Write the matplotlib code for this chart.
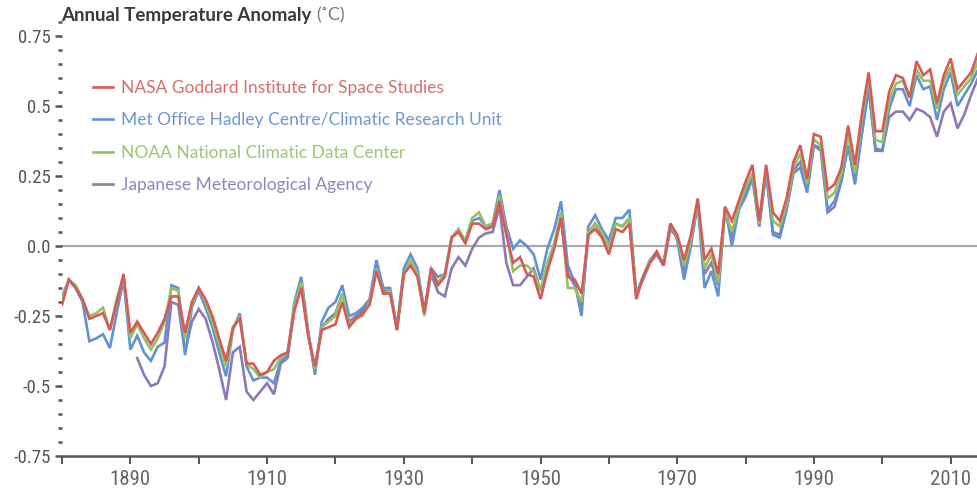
import matplotlib
matplotlib.use("Agg")
import matplotlib.pyplot as plt
from matplotlib import font_manager
from matplotlib.ticker import MultipleLocator, FuncFormatter

def pick(names):
    avail = {f.name for f in font_manager.fontManager.ttflist}
    for n in names:
        if n in avail:
            return n
    return "DejaVu Sans"

NARROW = pick(["Liberation Sans Narrow", "Roboto Condensed", "DejaVu Sans"])
SANS = pick(["Lato", "Open Sans", "DejaVu Sans"])

years_full = list(range(1880, 2015))
years_jma = list(range(1891, 2015))

nasa = [-0.21, -0.12, -0.15, -0.19, -0.26, -0.25, -0.24, -0.30, -0.20, -0.10,
        -0.31, -0.27, -0.31, -0.35, -0.31, -0.26, -0.18, -0.18, -0.31, -0.20,
        -0.15, -0.19, -0.25, -0.33, -0.41, -0.29, -0.26, -0.42, -0.42, -0.46,
        -0.45, -0.41, -0.39, -0.38, -0.23, -0.15, -0.32, -0.43, -0.30, -0.29,
        -0.28, -0.20, -0.29, -0.26, -0.24, -0.21, -0.09, -0.17, -0.17, -0.30,
        -0.10, -0.07, -0.11, -0.24, -0.08, -0.14, -0.11, 0.03, 0.05, 0.01,
        0.08, 0.08, 0.06, 0.07, 0.16, 0.04, -0.06, -0.04, -0.10, -0.11,
        -0.19, -0.09, -0.01, 0.10, -0.11, -0.12, -0.17, 0.04, 0.06, 0.03,
        -0.03, 0.06, 0.05, 0.08, -0.19, -0.11, -0.06, -0.02, -0.07, 0.08,
        0.04, -0.05, 0.04, 0.17, -0.05, -0.01, -0.10, 0.14, 0.09, 0.16,
        0.23, 0.29, 0.09, 0.29, 0.12, 0.09, 0.17, 0.30, 0.36, 0.24,
        0.40, 0.39, 0.20, 0.22, 0.28, 0.43, 0.29, 0.47, 0.62, 0.41,
        0.41, 0.55, 0.61, 0.60, 0.53, 0.66, 0.61, 0.63, 0.51, 0.61,
        0.67, 0.56, 0.59, 0.62, 0.69]

hadcru = [-0.18, -0.12, -0.15, -0.20, -0.34, -0.33, -0.315, -0.365, -0.24, -0.12,
          -0.37, -0.32, -0.38, -0.41, -0.36, -0.345, -0.14, -0.15, -0.39, -0.22,
          -0.16, -0.22, -0.29, -0.38, -0.465, -0.30, -0.24, -0.43, -0.48, -0.47,
          -0.47, -0.49, -0.41, -0.39, -0.20, -0.11, -0.30, -0.46, -0.27, -0.22,
          -0.20, -0.14, -0.25, -0.24, -0.22, -0.19, -0.05, -0.15, -0.15, -0.29,
          -0.08, -0.03, -0.08, -0.23, -0.08, -0.11, -0.10, 0.03, 0.06, 0.01,
          0.09, 0.10, 0.07, 0.08, 0.20, 0.07, -0.01, 0.02, 0.00, -0.03,
          -0.12, -0.01, 0.06, 0.16, -0.07, -0.13, -0.25, 0.07, 0.11, 0.06,
          0.02, 0.10, 0.10, 0.13, -0.17, -0.11, -0.05, -0.03, -0.06, 0.08,
          0.02, -0.12, 0.00, 0.155, -0.15, -0.09, -0.18, 0.14, 0.00, 0.13,
          0.175, 0.24, 0.07, 0.26, 0.04, 0.03, 0.13, 0.26, 0.28, 0.19,
          0.36, 0.35, 0.13, 0.16, 0.23, 0.36, 0.23, 0.40, 0.56, 0.35,
          0.34, 0.49, 0.56, 0.56, 0.50, 0.61, 0.56, 0.57, 0.45, 0.56,
          0.62, 0.50, 0.54, 0.58, 0.63]

noaa = [-0.19, -0.12, -0.14, -0.19, -0.25, -0.24, -0.22, -0.30, -0.19, -0.11,
        -0.33, -0.28, -0.33, -0.37, -0.33, -0.27, -0.15, -0.16, -0.33, -0.21,
        -0.15, -0.20, -0.27, -0.35, -0.43, -0.30, -0.25, -0.42, -0.44, -0.47,
        -0.45, -0.44, -0.40, -0.38, -0.21, -0.13, -0.31, -0.44, -0.29, -0.27,
        -0.25, -0.17, -0.28, -0.26, -0.25, -0.20, -0.08, -0.17, -0.16, -0.30,
        -0.10, -0.05, -0.10, -0.25, -0.09, -0.13, -0.10, 0.03, 0.06, 0.02,
        0.10, 0.12, 0.07, 0.08, 0.18, 0.05, -0.09, -0.07, -0.07, -0.09,
        -0.16, -0.06, 0.01, 0.12, -0.15, -0.15, -0.20, 0.05, 0.08, 0.05,
        -0.01, 0.08, 0.07, 0.10, -0.18, -0.11, -0.05, -0.02, -0.07, 0.08,
        0.03, -0.07, 0.02, 0.16, -0.08, -0.03, -0.13, 0.13, 0.05, 0.14,
        0.21, 0.26, 0.08, 0.28, 0.09, 0.07, 0.15, 0.28, 0.33, 0.22,
        0.38, 0.36, 0.17, 0.19, 0.26, 0.40, 0.26, 0.45, 0.60, 0.38,
        0.37, 0.52, 0.58, 0.59, 0.53, 0.63, 0.59, 0.59, 0.49, 0.59,
        0.64, 0.54, 0.57, 0.60, 0.66]

jma = [-0.40, -0.46, -0.50, -0.49, -0.43, -0.20, -0.21, -0.38, -0.27,
       -0.225, -0.26, -0.34, -0.44, -0.55, -0.38, -0.36, -0.52, -0.55, -0.52,
       -0.49, -0.53, -0.42, -0.40, -0.22, -0.13, -0.31, -0.45, -0.29, -0.26,
       -0.24, -0.17, -0.27, -0.25, -0.23, -0.20, -0.07, -0.16, -0.16, -0.30,
       -0.10, -0.06, -0.10, -0.24, -0.10, -0.165, -0.18, -0.08, -0.04, -0.07,
       -0.01, 0.03, 0.045, 0.05, 0.14, -0.06, -0.14, -0.14, -0.11, -0.08,
       -0.16, -0.07, 0.00, 0.10, -0.10, -0.14, -0.22, 0.04, 0.08, 0.04,
       0.00, 0.08, 0.07, 0.10, -0.17, -0.12, -0.06, -0.03, -0.07, 0.06,
       0.03, -0.09, 0.01, 0.15, -0.10, -0.06, -0.14, 0.13, 0.03, 0.13,
       0.19, 0.25, 0.07, 0.27, 0.05, 0.04, 0.13, 0.27, 0.30, 0.20,
       0.36, 0.34, 0.12, 0.14, 0.23, 0.36, 0.22, 0.40, 0.57, 0.34,
       0.34, 0.46, 0.48, 0.48, 0.45, 0.49, 0.48, 0.46, 0.39, 0.48,
       0.51, 0.42, 0.47, 0.54, 0.60]

labels = ["NASA Goddard Institute for Space Studies",
          "Met Office Hadley Centre/Climatic Research Unit",
          "NOAA National Climatic Data Center",
          "Japanese Meteorological Agency"]
colors = ["#d65a57", "#6092d4", "#95c162", "#8d79b6"]
text_colors = ["#d6706c", "#6f98cf", "#9fc474", "#9484b8"]

y_ticks = [-0.75, -0.5, -0.25, 0.0, 0.25, 0.5, 0.75]
y_ticklabels = ["-0.75", "-0.5", "-0.25", "0.0", "0.25", "0.5", "0.75"]
x_labeled = [1890, 1910, 1930, 1950, 1970, 1990, 2010]

fig = plt.figure(figsize=(9.78, 4.96), dpi=100)
ax = fig.add_axes([62 / 978, 40 / 496, 1 - 62 / 978, 434 / 496])
ax.set_xlim(1880, 2014)
ax.set_ylim(-0.75, 0.80)

ax.axhline(0, color="#aaaaaa", lw=1.6, zorder=1)

series = [(years_jma, jma, 3), (years_full, hadcru, 4), (years_full, noaa, 5), (years_full, nasa, 6)]
order_idx = [3, 1, 2, 0]
handles = {}
for (xs, ys, z), i in zip(series, order_idx):
    ln, = ax.plot(xs, ys, color=colors[i], lw=1.9, zorder=z, solid_joinstyle="miter")
    handles[i] = ln

for s in ["top", "right", "left"]:
    ax.spines[s].set_visible(False)
ax.spines["bottom"].set_color("#555555")
ax.spines["bottom"].set_linewidth(1.8)

ax.set_yticks(y_ticks, labels=y_ticklabels, fontfamily=NARROW, fontsize=13.5)
ax.yaxis.set_minor_locator(MultipleLocator(0.05))
ax.tick_params(axis="y", which="major", length=5, width=1.8, color="#555555",
               labelcolor="#555555", pad=3)
ax.tick_params(axis="y", which="minor", length=3, width=1.8, color="#555555")

ax.xaxis.set_major_locator(MultipleLocator(10))
ax.xaxis.set_major_formatter(FuncFormatter(
    lambda v, p: str(int(round(v))) if int(round(v)) in x_labeled else ""))
ax.tick_params(axis="x", which="major", length=6, width=1.4, color="#555555",
               labelcolor="#666666", labelsize=15, pad=4)
for lab in ax.get_xticklabels():
    lab.set_fontfamily(NARROW)

leg = ax.legend([handles[i] for i in range(4)], labels, loc="upper left",
                bbox_to_anchor=(15 / 916, 1 - (64 - 22) / 434),
                frameon=False, handlelength=1.2, handletextpad=0.45,
                labelspacing=0.95, prop={"family": SANS, "size": 12.5})
for t, c in zip(leg.get_texts(), text_colors):
    t.set_color(c)

t1 = fig.text(61 / 978, 1 - 15 / 496, "Annual Temperature Anomaly", fontsize=13.5,
              fontweight="bold", color="#3a3a3a", family=SANS, va="center", ha="left")
fig.canvas.draw()
bb = t1.get_window_extent()
fig.text((bb.x1 + 5) / fig.bbox.width, 1 - 15 / 496, "(˚C)", fontsize=13,
         color="#777777", family=SANS, va="center", ha="left")

fig.savefig("out.png", dpi=100)
